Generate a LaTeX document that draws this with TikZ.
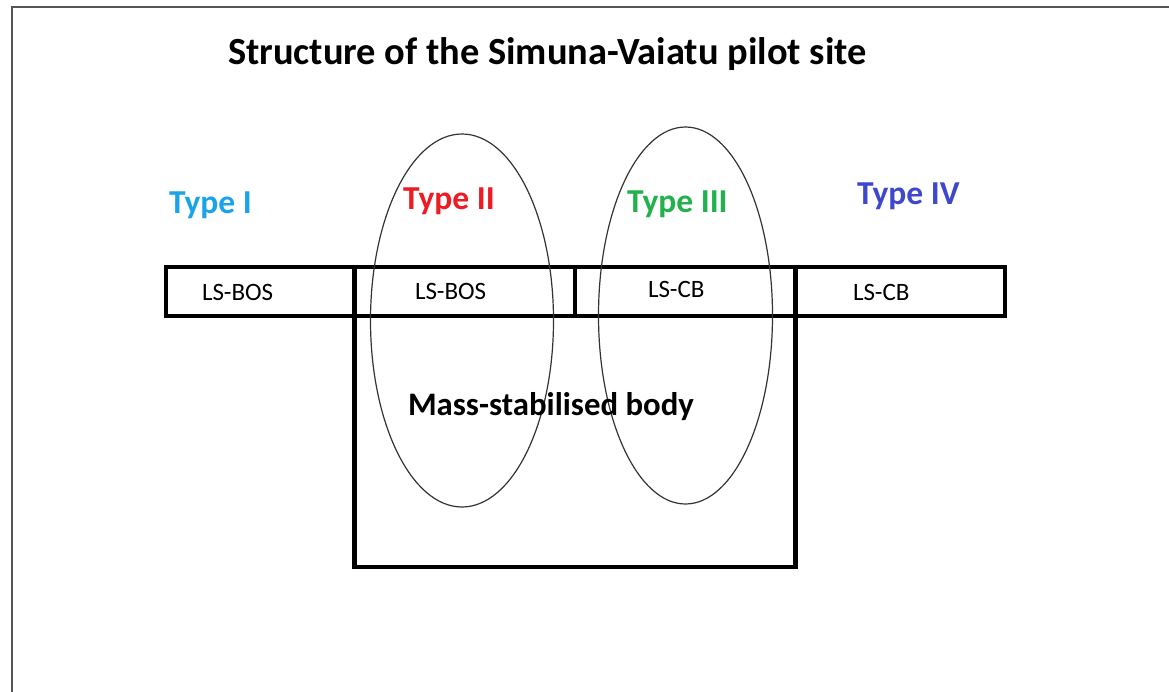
\documentclass[tikz,border=0pt]{standalone}
\usepackage{fontspec}
\setmainfont{Carlito}
\definecolor{frameg}{HTML}{555555}
\definecolor{ellg}{HTML}{333333}
\definecolor{tcyan}{HTML}{1AA3E8}
\definecolor{tred}{HTML}{ED1C24}
\definecolor{tgreen}{HTML}{22B14C}
\definecolor{tindigo}{HTML}{3F48CC}
\tikzset{
  cellbox/.style={draw=black, line width=4.5bp, inner sep=0pt, outer sep=0pt, rectangle},
  ring/.style={draw=ellg, line width=1.2bp},
  lbl/.style={anchor=base west, inner sep=0pt, outer sep=0pt},
  title/.style={lbl, font=\fontsize{38.4bp}{40bp}\selectfont\bfseries},
  typelbl/.style={lbl, font=\fontsize{33.5bp}{35bp}\selectfont\bfseries},
  lslbl/.style={lbl, font=\fontsize{25bp}{27bp}\selectfont},
  bodylbl/.style={lbl, font=\fontsize{32.8bp}{34bp}\selectfont\bfseries}
}
\begin{document}
\begin{tikzpicture}[x=1bp,y=-1bp]
\useasboundingbox (0,0) rectangle (1169,692);
% frame
\draw[frameg, line width=2bp] (12,700) -- (12,7) -- (1180,7);
% body box
\node[cellbox, minimum width=441bp, minimum height=300bp] (body) at (575,417) {};
% top strip cells
\node[cellbox, minimum width=188bp, minimum height=49bp] (c1) at (260,291.5) {};
\node[cellbox, minimum width=221bp, minimum height=49bp] (c2) at (464.5,291.5) {};
\node[cellbox, minimum width=220bp, minimum height=49bp] (c3) at (685,291.5) {};
\node[cellbox, minimum width=210bp, minimum height=49bp] (c4) at (900,291.5) {};
% ellipses
\draw[ring] (462,320.5) ellipse [x radius=91.5, y radius=186.5];
\draw[ring] (685.5,315.5) ellipse [x radius=87, y radius=188.5];
% texts
\node[title] (t) at (228,65) {Structure of the Simuna-Vaiatu pilot site};
\node[typelbl, text=tcyan] (ty1) at (169,214) {Type I};
\node[typelbl, text=tred] (ty2) at (403,210) {Type II};
\node[typelbl, text=tgreen] (ty3) at (627,213) {Type III};
\node[typelbl, text=tindigo] (ty4) at (857,205) {Type IV};
\node[lslbl] (l1) at (202,300) {LS-BOS};
\node[lslbl] (l2) at (415,299) {LS-BOS};
\node[lslbl] (l3) at (648,297) {LS-CB};
\node[lslbl] (l4) at (853,300) {LS-CB};
\node[bodylbl] (mb) at (408,415) {Mass-stabilised body};
\end{tikzpicture}
\end{document}
